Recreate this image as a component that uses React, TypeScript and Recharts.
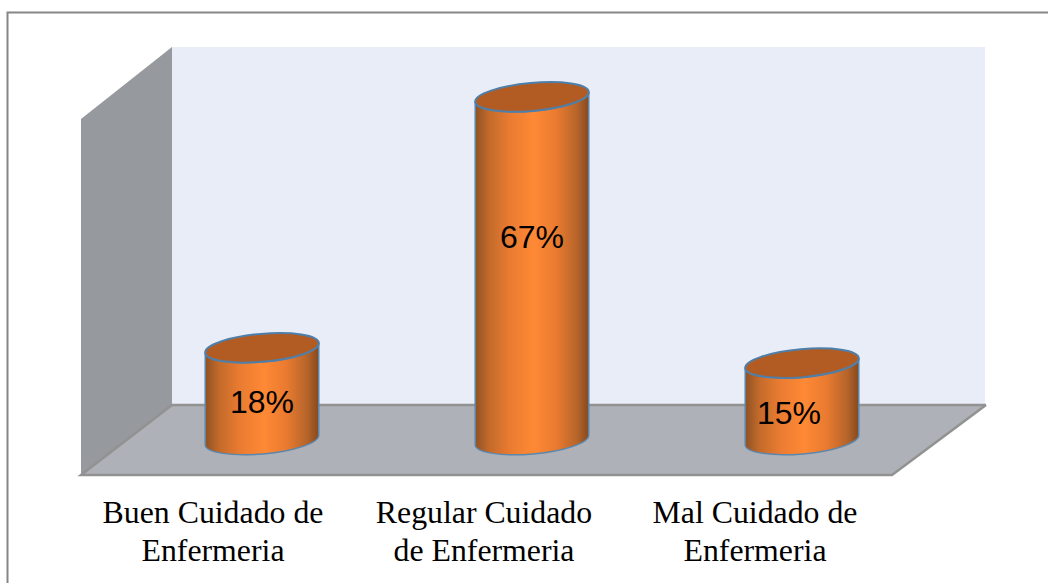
import { BarChart, Bar, XAxis, YAxis, LabelList, Customized } from "recharts";

const categories = ["Buen Cuidado de Enfermeria", "Regular Cuidado de Enfermeria", "Mal Cuidado de Enfermeria"];
const tickLines = [
  ["Buen Cuidado de", "Enfermeria"],
  ["Regular Cuidado", "de Enfermeria"],
  ["Mal Cuidado de", "Enfermeria"],
];
const values = [18, 67, 15];
const labelShiftX = [0, 0, -13];
const labelShiftY = [8, -31, 11];
const tickShiftX = [-49, -48, -47];

const chartData = categories.map((name, i) => ({ name, value: values[i] }));

const RX = 57;
const RY = 14;
const TILT = -5;

function Walls() {
  return (
    <g>
      <path d="M7.5 583V12.5H1048" fill="none" stroke="#868686" strokeWidth={2} />
      <polygon points="172,47 985,47 985,405 172,405" fill="#e9edf8" />
      <polygon points="172,47 81,119 81,475 172,405" fill="#96999d" />
      <polygon points="172,405 986,405 892,475 81,475" fill="#aeb1b8" />
      <path d="M986 405H172L81 475H892L986 405" fill="none" stroke="#929292" strokeWidth={2.5} />
    </g>
  );
}

function Cylinder(props: any) {
  const { x, y, width, height } = props;
  const cx = x + width / 2;
  const base = y + height;
  const dy = Math.sin((TILT * Math.PI) / 180) * RX;
  const dx = Math.cos((TILT * Math.PI) / 180) * RX;
  const body =
    `M${cx - dx} ${y - dy}L${cx - dx} ${base - dy}` +
    `A${RX} ${RY} ${TILT} 0 0 ${cx + dx} ${base + dy}` +
    `L${cx + dx} ${y + dy}A${RX} ${RY} ${TILT} 0 1 ${cx - dx} ${y - dy}Z`;
  return (
    <g>
      <path d={body} fill="url(#cylinderSide)" stroke="#5b87ad" strokeWidth={1.5} />
      <ellipse
        cx={cx}
        cy={y}
        rx={RX}
        ry={RY}
        transform={`rotate(${TILT} ${cx} ${y})`}
        fill="#b25c24"
        stroke="#4f7fa8"
        strokeWidth={2}
      />
    </g>
  );
}

function PercentLabel(props: any) {
  const { x, y, width, height, value, index } = props;
  return (
    <text
      x={x + width / 2 + labelShiftX[index]}
      y={y + height / 2 + labelShiftY[index]}
      textAnchor="middle"
      dominantBaseline="central"
      fontFamily="Liberation Sans"
      fontSize={32}
      fill="#000"
    >
      {value}%
    </text>
  );
}

function TwoLineTick(props: any) {
  const { x, index } = props;
  const cx = x + tickShiftX[index];
  return (
    <text textAnchor="middle" fontFamily="Liberation Serif" fontSize={31.8} fill="#000">
      <tspan x={cx} y={523}>
        {tickLines[index][0]}
      </tspan>
      <tspan x={cx} y={561}>
        {tickLines[index][1]}
      </tspan>
    </text>
  );
}

export default function App() {
  return (
    <div style={{ position: "absolute", left: 0, top: 0 }}>
      <BarChart
        width={1048}
        height={583}
        data={chartData}
        margin={{ top: 30.4, right: 111, bottom: 0, left: 127 }}
      >
        <defs>
          <linearGradient id="cylinderSide" x1="0" y1="0" x2="1" y2="0">
            <stop offset="0%" stopColor="#8f5123" />
            <stop offset="12%" stopColor="#c26a2b" />
            <stop offset="30%" stopColor="#e97b31" />
            <stop offset="52%" stopColor="#ff8935" />
            <stop offset="72%" stopColor="#e87a30" />
            <stop offset="90%" stopColor="#b5642a" />
            <stop offset="100%" stopColor="#85491f" />
          </linearGradient>
        </defs>
        <Customized component={Walls} />
        <XAxis dataKey="name" axisLine={false} tickLine={false} tick={<TwoLineTick />} interval={0} height={143} />
        <YAxis domain={[0, 80]} hide />
        <Bar dataKey="value" barSize={114} shape={<Cylinder />} isAnimationActive={false}>
          <LabelList dataKey="value" content={<PercentLabel />} />
        </Bar>
      </BarChart>
    </div>
  );
}
